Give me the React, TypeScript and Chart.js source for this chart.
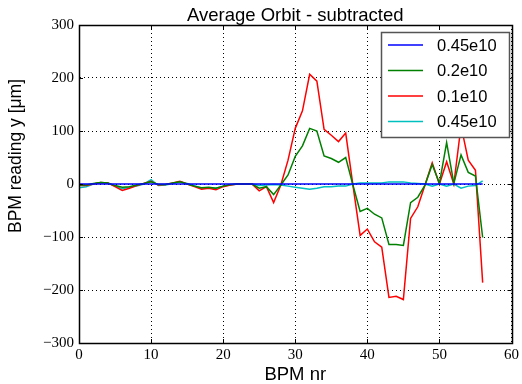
import { useEffect, useRef } from 'react';
import { Chart, registerables } from 'chart.js';

Chart.register(...registerables);

const bpm = [0,1,2,3,4,5,6,7,8,9,10,11,12,13,14,15,16,17,18,19,20,21,22,23,24,25,26,27,28,29,30,31,32,33,34,35,36,37,38,39,40,41,42,43,44,45,46,47,48,49,50,51,52,53,54,55,56];

const blue045 = [0,0,0,0,0,0,0,0,0,0,0,0,0,0,0,0,0,0,0,0,0,0,0,0,0,0,0,0,0,0,0,0,0,0,0,0,0,0,0,0,0,0,0,0,0,0,0,0,0,0,0,0,0,0,0,0,0];

const green02 = [-2,-2,1,3,2,-3,-6,-5,-2,1,4,-1,-1,2,4,0,-4,-7,-6,-8,-4,-1,0,0,0,-8,-5,-20,-2,17,52,72,105,100,53,48,41,50,-2,-52,-46,-57,-64,-114,-114,-116,-35,-25,-2,37,1,78,1,55,22,15,-101];

const red01 = [-3,-3,0,3,2,-5,-12,-8,-3,1,5,-2,-1,2,5,0,-5,-10,-8,-11,-5,-2,0,0,0,-13,-5,-35,-2,45,105,138,207,194,103,92,80,96,-2,-97,-85,-109,-119,-214,-212,-218,-65,-43,-2,40,0,42,0,110,45,26,-186];

const cyan045 = [-7,-5,0,3,2,-4,-9,-6,-4,0,8,-3,-2,1,4,1,-3,-8,-7,-8,-4,-2,0,0,0,-3,-2,-1,-2,-4,-6,-8,-10,-8,-5,-5,-4,-4,0,2,2,2,2,4,4,4,2,1,0,-4,0,-4,0,-8,-4,-3,6];

const seriesLabels = ['0.45e10', '0.2e10', '0.1e10', '0.45e10'];
const seriesColors = ['#0000ff', '#008000', '#ff0000', '#00bfbf'];
const seriesValues = [blue045, green02, red01, cyan045];

const xTicks = [0, 10, 20, 30, 40, 50, 60];
const yTicks = [-300, -200, -100, 0, 100, 200, 300];

const titleText = 'Average Orbit - subtracted';
const xLabel = 'BPM nr';
const yLabel = 'BPM reading y [\u03BCm]';

const SANS = '"Liberation Sans", Arial, sans-serif';
const SERIF = '"Liberation Serif", "Times New Roman", serif';

const decor = {
  id: 'decor',
  afterDatasetsDraw(chart: any) {
    const { ctx, chartArea: a, scales } = chart;
    const xs = scales.x;
    const ys = scales.y;
    ctx.save();
    // frame
    ctx.strokeStyle = '#000';
    ctx.lineWidth = 1.5;
    ctx.strokeRect(Math.round(a.left) + 0.5, Math.round(a.top) + 0.5, Math.round(a.right - a.left), Math.round(a.bottom - a.top));
    // inward ticks
    const tl = 4;
    ctx.lineWidth = 1;
    ctx.beginPath();
    xTicks.forEach((t) => {
      const px = Math.round(xs.getPixelForValue(t)) + 0.5;
      ctx.moveTo(px, a.bottom); ctx.lineTo(px, a.bottom - tl);
      ctx.moveTo(px, a.top); ctx.lineTo(px, a.top + tl);
    });
    yTicks.forEach((t) => {
      const py = Math.round(ys.getPixelForValue(t)) + 0.5;
      ctx.moveTo(a.left, py); ctx.lineTo(a.left + tl, py);
      ctx.moveTo(a.right, py); ctx.lineTo(a.right - tl, py);
    });
    ctx.stroke();

    // legend
    const lx = 381, ly = 32, lw = 128, lh = 105;
    ctx.fillStyle = '#fff';
    ctx.fillRect(lx, ly, lw, lh);
    ctx.strokeStyle = '#555';
    ctx.lineWidth = 1.5;
    ctx.strokeRect(lx + 0.5, ly + 0.5, lw, lh);
    const rows = [45, 70.5, 96, 121.5];
    ctx.font = '16.5px ' + SANS;
    ctx.textBaseline = 'middle';
    ctx.textAlign = 'left';
    chart.data.datasets.forEach((ds: any, i: number) => {
      const y = rows[i];
      ctx.strokeStyle = ds.borderColor;
      ctx.lineWidth = 1.5;
      ctx.beginPath();
      ctx.moveTo(388, y);
      ctx.lineTo(423, y);
      ctx.stroke();
      ctx.fillStyle = '#000';
      ctx.fillText(ds.label, 437, y + 1);
    });
    ctx.restore();
  },
  afterDraw(chart: any) {
    const { ctx, chartArea: a } = chart;
    ctx.save();
    ctx.fillStyle = '#000';
    ctx.textAlign = 'center';
    ctx.textBaseline = 'alphabetic';
    ctx.font = '18.5px ' + SANS;
    const cx = (a.left + a.right) / 2;
    ctx.fillText(titleText, cx, 21);
    ctx.fillText(xLabel, cx, 380);
    ctx.font = '17.5px ' + SANS;
    ctx.translate(21, 156);
    ctx.rotate(-Math.PI / 2);
    ctx.fillText(yLabel, 0, 0);
    ctx.restore();
  },
};

export default function App() {
  const ref = useRef<HTMLCanvasElement | null>(null);
  useEffect(() => {
    if (!ref.current) return;
    const chart = new Chart(ref.current, {
      type: 'line',
      data: {
        datasets: seriesValues.map((vals, i) => ({
          label: seriesLabels[i],
          data: bpm.map((b, j) => ({ x: b, y: vals[j] })),
          borderColor: seriesColors[i],
          backgroundColor: seriesColors[i],
          borderWidth: 1.5,
          pointRadius: 0,
          tension: 0,
          fill: false,
        })),
      },
      options: {
        responsive: false,
        animation: false,
        events: [],
        layout: { padding: { top: 25, right: 9, bottom: 0, left: 0 } },
        plugins: {
          legend: { display: false },
          title: { display: false },
          tooltip: { enabled: false },
        },
        scales: {
          x: {
            type: 'linear',
            min: 0,
            max: 60,
            afterFit: (s: any) => { s.height = 41; },
            afterBuildTicks: (s: any) => { s.ticks = xTicks.map((v) => ({ value: v })); },
            ticks: {
              color: '#000',
              font: { family: SERIF, size: 15 },
              padding: 3,
              maxRotation: 0,
              callback: (v: any) => String(v),
            },
            grid: { color: '#000', lineWidth: 1, drawTicks: false },
            border: { display: true, color: '#000', dash: [1, 3] },
          },
          y: {
            type: 'linear',
            min: -300,
            max: 300,
            afterFit: (s: any) => { s.width = 79; },
            afterBuildTicks: (s: any) => { s.ticks = yTicks.map((v) => ({ value: v })); },
            ticks: {
              color: '#000',
              font: { family: SERIF, size: 15 },
              padding: 5,
              callback: (v: any) => (Number(v) < 0 ? '\u2212' + Math.abs(Number(v)) : String(v)),
            },
            grid: { color: '#000', lineWidth: 1, drawTicks: false },
            border: { display: true, color: '#000', dash: [1, 3] },
          },
        },
      } as any,
      plugins: [decor],
    });
    return () => chart.destroy();
  }, []);
  return (
    <div style={{ position: 'absolute', left: 0, top: 0, width: 522, height: 384, background: '#fff' }}>
      <canvas ref={ref} width={522} height={384} style={{ display: 'block' }} />
    </div>
  );
}
